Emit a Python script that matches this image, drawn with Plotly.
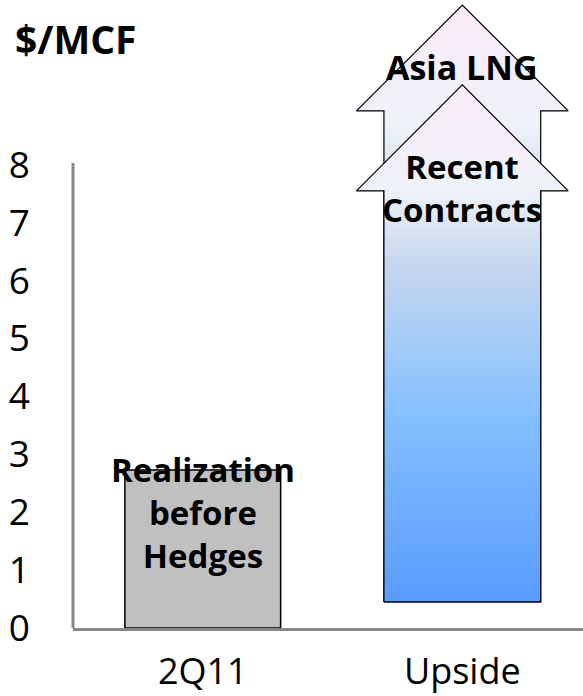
import plotly.graph_objects as go

# ---- data ----
categories = ["2Q11", "Upside"]
realization_before_hedges = 2.73      # $/MCF, 2Q11 bar
upside_base = 0.45                    # bottom of the upside arrows
recent_contracts_top = 9.38           # tip of the "Recent Contracts" arrow
asia_lng_top = 10.76                  # tip of the "Asia LNG" arrow
y_tick_values = [0, 1, 2, 3, 4, 5, 6, 7, 8]
bar_label = "Realization<br>before<br>Hedges"
recent_label = "Recent<br>Contracts"
asia_label = "Asia LNG"
unit_label = "$/MCF"

# ---- style constants ----
BAR_W = 0.6
SHAFT_HALF = 0.302
HEAD_HALF = 0.408
HEAD_H = 1.83
FONT = "Open Sans"
AXIS_GREY = "#878787"

x_bar = categories.index("2Q11")
x_up = categories.index("Upside")


def arrow_xy(xc, base, top):
    xs = [xc - SHAFT_HALF, xc - SHAFT_HALF, xc - HEAD_HALF, xc,
          xc + HEAD_HALF, xc + SHAFT_HALF, xc + SHAFT_HALF, xc - SHAFT_HALF]
    ys = [base, top - HEAD_H, top - HEAD_H, top,
          top - HEAD_H, top - HEAD_H, base, base]
    return xs, ys


grad_scale = [
    [0.0, "#5a9bfd"],
    [0.36, "#84bffe"],
    [0.66, "#c8d8ee"],
    [0.80, "#eef2f9"],
    [1.0, "#fcebfb"],
]

fig = go.Figure()

fig.add_trace(go.Bar(
    x=[x_bar], y=[realization_before_hedges], width=BAR_W,
    marker=dict(color="#c0c0c0", line=dict(color="black", width=1.5)),
    hoverinfo="skip", showlegend=False,
))

for top in (asia_lng_top, recent_contracts_top):
    xs, ys = arrow_xy(x_up, upside_base, top)
    fig.add_trace(go.Scatter(
        x=xs, y=ys, mode="lines", fill="toself",
        fillgradient=dict(type="vertical", colorscale=grad_scale,
                          start=upside_base, stop=top),
        line=dict(color="black", width=1.2),
        hoverinfo="skip", showlegend=False,
    ))

fig.add_annotation(x=x_bar, y=realization_before_hedges, yref="y", xref="x",
                   yanchor="top", yshift=25, text=bar_label, showarrow=False,
                   font=dict(family=FONT, size=33, color="black", weight="bold"))
fig.add_annotation(x=x_up, y=recent_contracts_top - HEAD_H, xref="x", yref="y",
                   yanchor="middle", yshift=3, text=recent_label, showarrow=False,
                   font=dict(family=FONT, size=33, color="black", weight="bold"))
fig.add_annotation(x=x_up, y=asia_lng_top - 1.1, xref="x", yref="y",
                   yanchor="middle", yshift=2, text=asia_label, showarrow=False,
                   font=dict(family=FONT, size=34, color="black", weight="bold"))
fig.add_annotation(x=-0.118, y=0.938, xref="paper", yref="paper",
                   xanchor="left", yanchor="middle", text=unit_label, showarrow=False,
                   font=dict(family=FONT, size=39, color="black", weight="bold"))

# y axis line only spans the tick range
fig.add_shape(type="line", xref="paper", yref="y", x0=0, x1=0,
              y0=0, y1=max(y_tick_values) + 0.03,
              line=dict(color=AXIS_GREY, width=3), layer="below")

fig.update_layout(
    width=583, height=696,
    margin=dict(l=73, r=0, t=0, b=68),
    plot_bgcolor="white", paper_bgcolor="white",
    font=dict(family=FONT, color="black"),
    xaxis=dict(range=[-0.5, 1.465], tickvals=[x_bar, x_up], ticktext=categories,
               showgrid=False, zeroline=False, showline=True, linecolor=AXIS_GREY,
               linewidth=3, ticks="", tickfont=dict(size=36, family=FONT),
               ticklabelstandoff=10, automargin=False),
    yaxis=dict(range=[0, 10.846], tickvals=y_tick_values, showgrid=False,
               zeroline=False, showline=False, ticks="",
               tickfont=dict(size=37, family=FONT), ticklabelstandoff=42,
               automargin=False),
)

fig.write_html("out.html", config={"displayModeBar": False},
               post_script="document.body.style.margin='0';")
